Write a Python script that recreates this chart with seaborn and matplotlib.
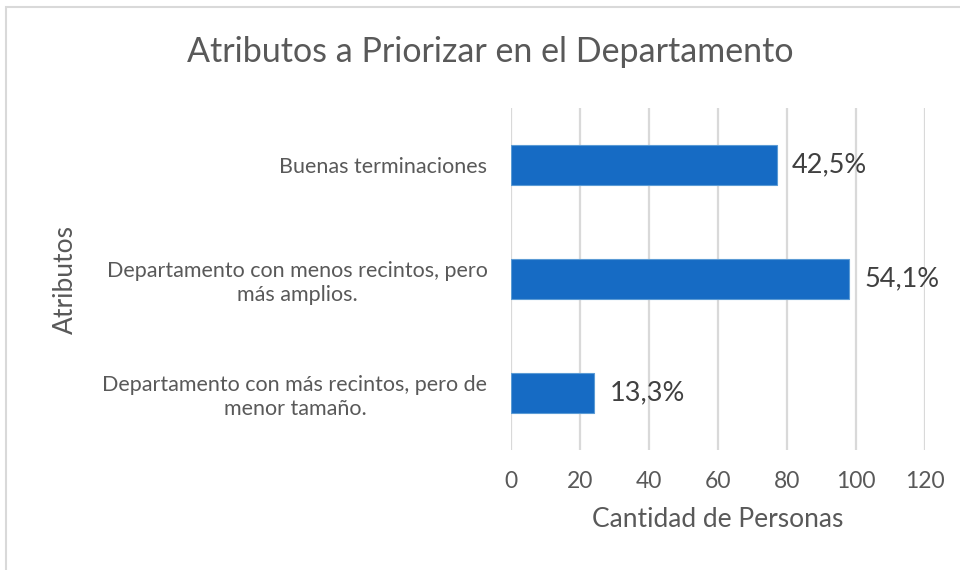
import matplotlib
matplotlib.use("Agg")
import matplotlib.pyplot as plt
import matplotlib.patches as mpatches
import seaborn as sns
import pandas as pd

# Survey results: people choosing each attribute (out of 181 respondents)
categories = [
    "Buenas terminaciones",
    "Departamento con menos recintos, pero\nmás amplios.",
    "Departamento con más recintos, pero de\nmenor tamaño.",
]
counts = [77, 98, 24]
total_respondents = 181
x_ticks = [0, 20, 40, 60, 80, 100, 120]

df = pd.DataFrame({"Atributo": categories, "Personas": counts})

sns.set_theme(style="white")
plt.rcParams["font.family"] = ["Lato", "DejaVu Sans"]

text_gray = "#595959"
label_gray = "#404040"
bar_blue = "#166BC4"

fig = plt.figure(figsize=(9.6, 5.7), dpi=100)
fig.patch.set_facecolor("white")

# Chart frame
frame = mpatches.Rectangle((6 / 960, -0.1), 1.2, 1 - 7 / 570 + 0.1,
                           transform=fig.transFigure, fill=False,
                           edgecolor="#d9d9d9", linewidth=1.5, clip_on=False)
fig.patches.append(frame)

ax = fig.add_axes([511 / 960, 120 / 570, 414 / 960, 342 / 570])

sns.barplot(data=df, x="Personas", y="Atributo", orient="h",
            color=bar_blue, width=0.35, edgecolor="#5b9bd5",
            linewidth=0.8, saturation=1, ax=ax, zorder=3)

ax.set_xlim(0, 120)
ax.set_xticks(x_ticks)
ax.set_xticklabels([str(t) for t in x_ticks], fontsize=16.5, color=text_gray)
ax.tick_params(axis="x", length=0, pad=15)
ax.tick_params(axis="y", length=0, pad=17)
for lbl in ax.get_yticklabels():
    lbl.set_fontsize(15.5)
    lbl.set_color(text_gray)
    lbl.set_multialignment("center")
    lbl.set_linespacing(1.25)

ax.grid(axis="x", color="#d9d9d9", linewidth=1.6, zorder=0)
ax.grid(axis="y", visible=False)
for s in ax.spines.values():
    s.set_visible(False)

# Percentage labels at bar ends
for i, c in enumerate(counts):
    pct = f"{c / total_respondents * 100:.1f}%".replace(".", ",")
    ax.text(c + 4.5, i, pct, va="center", ha="left",
            fontsize=19.5, color=label_gray, zorder=4)

ax.set_xlabel("Cantidad de Personas", fontsize=19, color=text_gray, labelpad=11)
ax.set_ylabel("")
fig.text(65 / 960, 1 - 280 / 570, "Atributos", rotation=90, ha="center",
         va="center", fontsize=19, color=text_gray)

fig.text(490 / 960, 1 - 52 / 570, "Atributos a Priorizar en el Departamento",
         ha="center", va="center", fontsize=24.5, color=text_gray)

fig.savefig("out.png", dpi=100, facecolor="white")
